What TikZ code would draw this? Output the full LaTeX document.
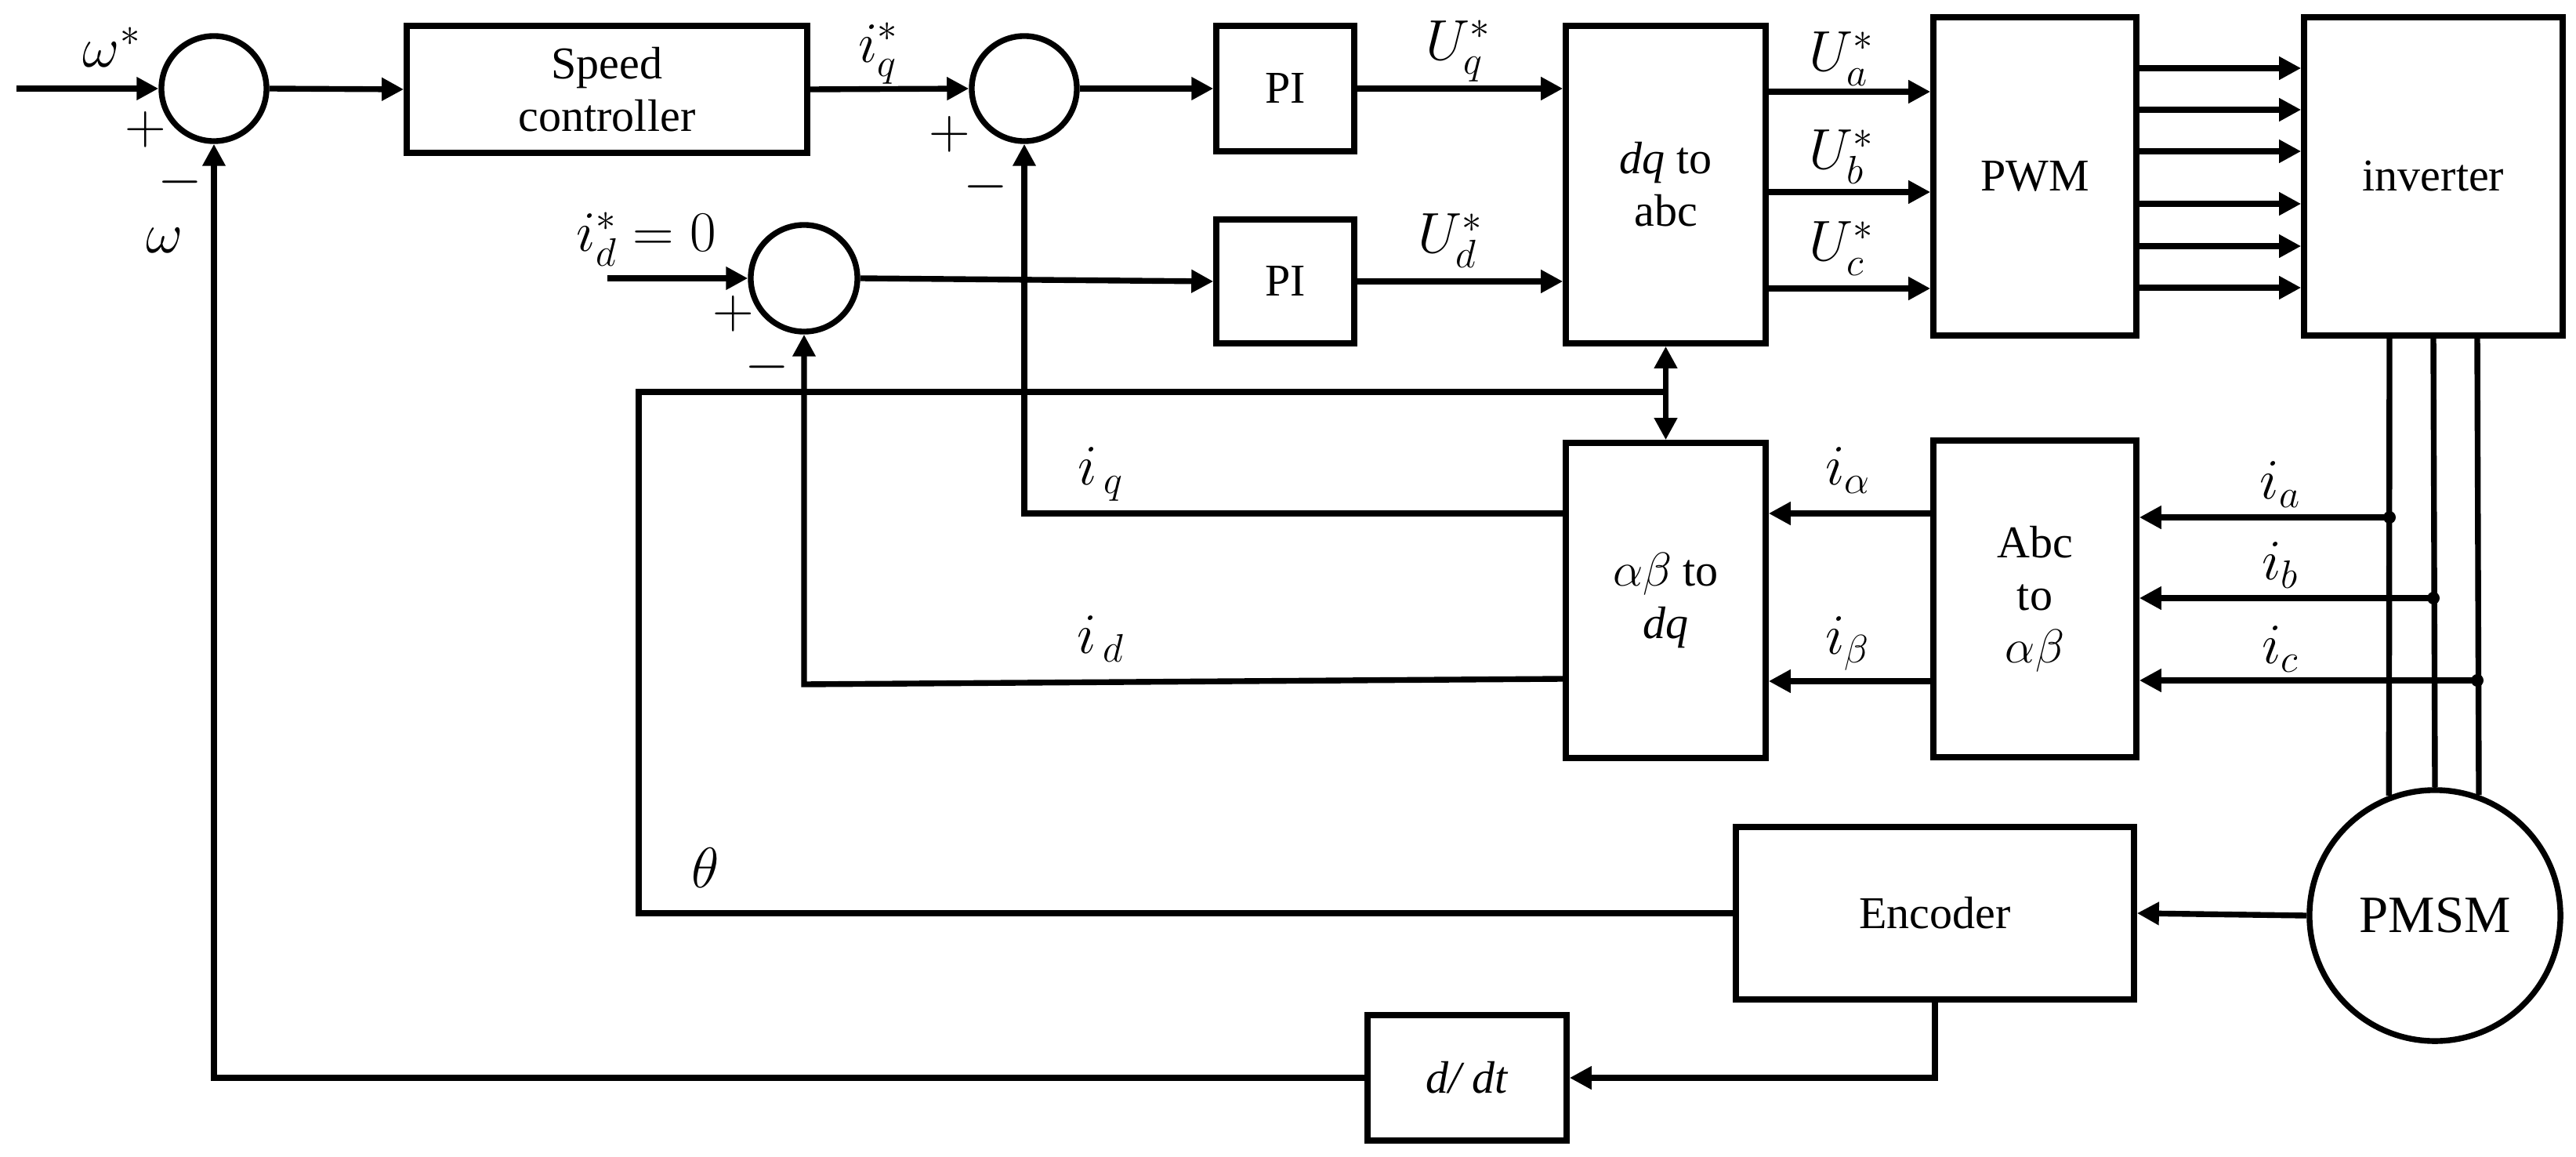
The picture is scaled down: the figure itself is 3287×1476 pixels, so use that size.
\documentclass[tikz,border=0pt]{standalone}
\usepackage{fontspec}
\setmainfont{Liberation Serif}
\newfontfamily\serifx{Liberation Serif}
\usetikzlibrary{arrows.meta,calc}
\newcommand{\dtxt}{\serifx\fontsize{16.5}{19}\selectfont}
\newcommand{\dbig}{\serifx\fontsize{19}{22}\selectfont}
\newcommand{\dmth}{\serifx\fontsize{20}{24}\selectfont}
\begin{document}
\begin{tikzpicture}[x=0.01cm,y=-0.01cm,
  lw/.style={line width=2.1pt},
  arr/.style={lw,-{Triangle[length=0.28cm,width=0.28cm]}},
  blk/.style={draw,lw,rectangle,inner sep=0pt,align=center,font=\dtxt},
  sumj/.style={draw,lw,circle,inner sep=0pt,minimum size=1.34cm},
  lbl/.style={inner sep=0pt,font=\dmth},
  jdot/.style={circle,fill,inner sep=0pt,minimum size=0.16cm}]
\useasboundingbox (0,0) rectangle (3287,1476);

% blocks
\node[sumj] (s1) at (273,113) {};
\node[blk,minimum width=5.11cm,minimum height=1.62cm] (sc) at (774.5,114) {Speed\\controller};
\node[sumj] (s3) at (1307,113) {};
\node[blk,minimum width=1.76cm,minimum height=1.60cm] (pi1) at (1640,113) {PI};
\node[sumj,minimum size=1.36cm] (s2) at (1026,355) {};
\node[blk,minimum width=1.76cm,minimum height=1.58cm] (pi2) at (1640,359) {PI};
\node[blk,minimum width=2.55cm,minimum height=4.05cm] (dqabc) at (2125.5,235.5) {\textit{dq} to\\abc};
\node[blk,minimum width=2.59cm,minimum height=4.06cm] (pwm) at (2596.5,225) {PWM};
\node[blk,minimum width=3.30cm,minimum height=4.06cm] (inv) at (3105,225) {inverter};
\node[blk,minimum width=2.55cm,minimum height=4.02cm] (abdq) at (2125.5,766) {$\alpha\beta$ to\\\textit{dq}};
\node[blk,minimum width=2.59cm,minimum height=4.04cm] (abcab) at (2596.5,764) {Abc\\to\\$\alpha\beta$};
\node[blk,minimum width=5.08cm,minimum height=2.20cm] (enc) at (2469,1165) {Encoder};
\node[blk,minimum width=2.54cm,minimum height=1.60cm] (ddt) at (1872,1375) {\textit{d/ dt}};
\node[draw,lw,circle,inner sep=0pt,minimum size=3.2cm,font=\dbig] (pmsm) at (3107,1168) {PMSM};

% top chain
\coordinate (win) at (21,113);
\draw[arr] (win) -- (s1.west);
\draw[arr] (s1.east) -- (sc.west);
\draw[arr] (sc.east) -- (s3.west);
\draw[arr] (s3.east) -- (pi1.west);
\draw[arr] (pi1.east) -- (pi1.east -| dqabc.west);
\coordinate (idin) at (775,355);
\draw[arr] (idin) -- (s2.west);
\draw[arr] (s2.east) -- (pi2.west);
\draw[arr] (pi2.east) -- (pi2.east -| dqabc.west);

% dq to abc -> PWM
\foreach \yy in {117,245,368}
  \draw[arr] (dqabc.east |- 0,\yy) -- (pwm.west |- 0,\yy);
% PWM -> inverter
\foreach \yy in {87,140,193,260,314,367}
  \draw[arr] (pwm.east |- 0,\yy) -- (inv.west |- 0,\yy);

% inverter -> PMSM
\draw[lw] (inv.south -| 3049,0) -- (pmsm.111.3);
\draw[lw] (inv.south) -- (pmsm.north);
\draw[lw] (inv.south -| 3161,0) -- (pmsm.70.3);

% current measurements
\node[jdot] (da) at (3049,660) {};
\node[jdot] (db) at (3105,763) {};
\node[jdot] (dc) at (3161,868) {};
\draw[arr] (da.center) -- (da -| abcab.east);
\draw[arr] (db.center) -- (db -| abcab.east);
\draw[arr] (dc.center) -- (dc -| abcab.east);

% Abc to alpha beta -> alpha beta to dq
\draw[arr] (abcab.west |- 0,655) -- (abdq.east |- 0,655);
\draw[arr] (abcab.west |- 0,869) -- (abdq.east |- 0,869);

% feedback iq, id
\draw[arr] (abdq.west |- 0,655) -- (s3.south |- 0,655) -- (s3.south);
\draw[arr] (abdq.west |- 0,866) -- (s2.south |- 0,873) -- (s2.south);

% theta
\coordinate (tA) at (815,500);
\draw[lw] (enc.west) -- (enc.west -| tA) -- (tA) -- (tA -| dqabc.south);
\draw[lw,{Triangle[length=0.28cm,width=0.28cm]}-{Triangle[length=0.28cm,width=0.28cm]}] (dqabc.south) -- (abdq.north);

% speed feedback
\draw[arr] (pmsm.west) -- (enc.east);
\draw[arr] (enc.south) -- (enc.south |- ddt.east) -- (ddt.east);
\draw[arr] (ddt.west) -- (ddt.west -| s1.south) -- (s1.south);

% labels
\node[lbl] (lw1) at (143,60) {$\omega^*$};
\node[lbl] (p1) at (186,165) {$+$};
\node[lbl] (m1) at (230,232) {$-$};
\node[lbl] (lw2) at (210,307) {$\omega$};
\node[lbl] (liq) at (1121,68) {$i^*_q$};
\node[lbl] (p3) at (1212,171) {$+$};
\node[lbl] (m3) at (1258,238) {$-$};
\node[lbl] (lid) at (825,305) {$i^*_d=0$};
\node[lbl] (p2) at (936,400) {$+$};
\node[lbl] (m2) at (979,468) {$-$};
\node[lbl] (luq) at (1861,65) {$U^*_q$};
\node[lbl] (lud) at (1851,307) {$U^*_d$};
\node[lbl] (lua) at (2350,75) {$U^*_a$};
\node[lbl] (lub) at (2350,200) {$U^*_b$};
\node[lbl] (luc) at (2350,317) {$U^*_c$};
\node[lbl] (lfq) at (1405,605) {$i_{\,q}$};
\node[lbl] (lfd) at (1405,815) {$i_{\,d}$};
\node[lbl] (lal) at (2358,600) {$i_\alpha$};
\node[lbl] (lbe) at (2358,821) {$i_\beta$};
\node[lbl] (lia) at (2910,618) {$i_a$};
\node[lbl] (lib) at (2910,721) {$i_b$};
\node[lbl] (lic) at (2910,828) {$i_c$};
\node[lbl] (lth) at (900,1107) {$\theta$};
\end{tikzpicture}
\end{document}
